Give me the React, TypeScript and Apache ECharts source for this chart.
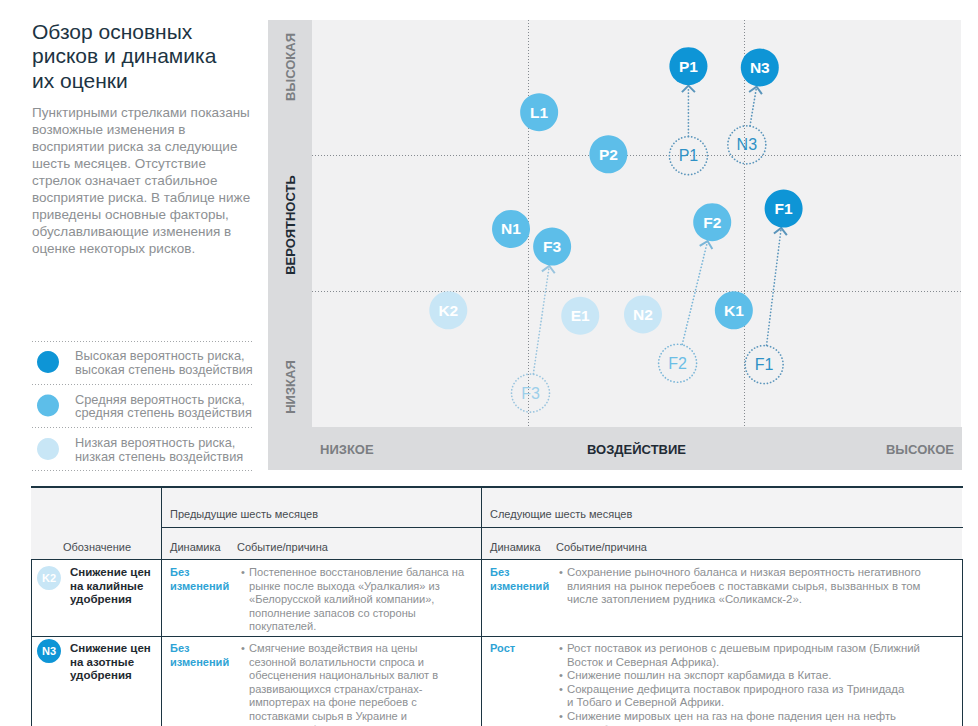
import React, { useEffect, useRef } from 'react';
import * as echarts from 'echarts';

// ---- Risk matrix data (impact: 0..3, probability: 0..3) ----
const riskNames = ['P1', 'N3', 'F1', 'L1', 'P2', 'N1', 'F3', 'F2', 'K1', 'K2', 'E1', 'N2'];
const riskImpact = [1.74, 2.07, 2.18, 1.05, 1.37, 0.92, 1.11, 1.85, 1.95, 0.63, 1.24, 1.53];
const riskProbability = [2.66, 2.65, 1.61, 2.32, 2.01, 1.46, 1.33, 1.51, 0.86, 0.86, 0.82, 0.83];
const riskLevel = ['high', 'high', 'high', 'mid', 'mid', 'mid', 'mid', 'mid', 'mid', 'low', 'low', 'low'];

// dotted "ghost" positions with arrows towards current position
const shiftNames = ['P1', 'N3', 'F1', 'F2', 'F3'];
const shiftImpact = [1.74, 2.01, 2.09, 1.69, 1.01];
const shiftProbability = [2.0, 2.08, 0.46, 0.47, 0.25];
const shiftLevel = ['high', 'high', 'high', 'mid', 'low'];

const probabilityTicks = ['НИЗКАЯ', 'ВЕРОЯТНОСТЬ', 'ВЫСОКАЯ'];
const impactTicks = ['НИЗКОЕ', 'ВОЗДЕЙСТВИЕ', 'ВЫСОКОЕ'];

const titleLines = ['Обзор основных', 'рисков и динамика', 'их оценки'];
const introLines = [
  'Пунктирными стрелками показаны',
  'возможные изменения в',
  'восприятии риска за следующие',
  'шесть месяцев. Отсутствие',
  'стрелок означает стабильное',
  'восприятие риска. В таблице ниже',
  'приведены основные факторы,',
  'обуславливающие изменения в',
  'оценке некоторых рисков.',
];
const legendLevels = ['high', 'mid', 'low'];
const legendLines = [
  ['Высокая вероятность риска,', 'высокая степень воздействия'],
  ['Средняя вероятность риска,', 'средняя степень воздействия'],
  ['Низкая вероятность риска,', 'низкая степень воздействия'],
];

// ---- Table ----
const headPrev = 'Предыдущие шесть месяцев';
const headNext = 'Следующие шесть месяцев';
const headCode = 'Обозначение';
const headDyn = 'Динамика';
const headEvent = 'Событие/причина';
const rowCodes = ['K2', 'N3'];
const rowLevels = ['low', 'high'];
const rowTitles = [
  ['Снижение цен', 'на калийные', 'удобрения'],
  ['Снижение цен', 'на азотные', 'удобрения'],
];
const rowPrevDyn = [['Без', 'изменений'], ['Без', 'изменений']];
const rowNextDyn = [['Без', 'изменений'], ['Рост']];
const rowPrevText = [
  [[
    'Постепенное восстановление баланса на',
    'рынке после выхода «Уралкалия» из',
    '«Белорусской калийной компании»,',
    'пополнение запасов со стороны',
    'покупателей.',
  ]],
  [[
    'Смягчение воздействия на цены',
    'сезонной волатильности спроса и',
    'обесценения национальных валют в',
    'развивающихся странах/странах-',
    'импортерах на фоне перебоев с',
    'поставками сырья в Украине и',
    'Северной Африке.',
  ]],
];
const rowNextText = [
  [[
    'Сохранение рыночного баланса и низкая вероятность негативного',
    'влияния на рынок перебоев с поставками сырья, вызванных в том',
    'числе затоплением рудника «Соликамск-2».',
  ]],
  [
    ['Рост поставок из регионов с дешевым природным газом (Ближний', 'Восток и Северная Африка).'],
    ['Снижение пошлин на экспорт карбамида в Китае.'],
    ['Сокращение дефицита поставок природного газа из Тринидада', 'и Тобаго и Северной Африки.'],
    ['Снижение мировых цен на газ на фоне падения цен на нефть', 'и ослабления национальных валют.'],
  ],
];

const FONT = "'Liberation Sans', Arial, Helvetica, sans-serif";
const fillByLevel: Record<string, string> = { high: '#0e95d6', mid: '#5dbee9', low: '#c8e6f6' };
const ghostTextByLevel: Record<string, string> = { high: '#2f91c6', mid: '#6cbee6', low: '#9ccfea' };
const ghostLineByLevel: Record<string, string> = { high: '#5a95bb', mid: '#7ab6d8', low: '#99c4de' };

function txt(x: number, y: number, text: string, o: any = {}) {
  const align = o.align || 'left';
  return {
    type: 'text',
    x,
    y,
    rotation: o.rotation || 0,
    silent: true,
    z: 10,
    style: {
      text,
      fill: o.fill || '#8b8e91',
      fontSize: o.size || 11,
      fontFamily: FONT,
      fontWeight: o.weight || 'normal',
      align,
      textAlign: align,
      verticalAlign: 'middle',
      textVerticalAlign: 'middle',
    },
  };
}
function hline(x1: number, x2: number, y: number, color: string, w = 1, dash?: number[]) {
  return {
    type: 'line',
    silent: true,
    z: 5,
    shape: { x1, y1: y, x2, y2: y },
    style: { stroke: color, lineWidth: w, lineDash: dash || null },
  };
}
function vline(x: number, y1: number, y2: number, color: string, w = 1) {
  return {
    type: 'line',
    silent: true,
    z: 5,
    shape: { x1: x, y1, x2: x, y2 },
    style: { stroke: color, lineWidth: w },
  };
}

export default function App() {
  const ref = useRef<HTMLDivElement>(null);
  useEffect(() => {
    document.body.style.margin = '0';
    const chart = echarts.init(ref.current!, null, { renderer: 'svg' });

    const els: any[] = [];
    // left column
    titleLines.forEach((t, i) => els.push(txt(32, 31 + i * 24.5, t, { size: 21, fill: '#1d3443' })));
    introLines.forEach((t, i) => els.push(txt(32, 112 + i * 17, t, { size: 13.5, fill: '#8d9093' })));
    [341, 384, 427, 470].forEach((y) => els.push(hline(32, 253, y + 0.5, '#a4a7aa', 1, [1, 2])));
    legendLevels.forEach((lv, i) => {
      const cy = 362 + i * 43.5;
      els.push({ type: 'circle', silent: true, z: 6, shape: { cx: 48, cy, r: 11 }, style: { fill: fillByLevel[lv] } });
      els.push(txt(75, cy - 6.5, legendLines[i][0], { size: 12.8, fill: '#8d9093' }));
      els.push(txt(75, cy + 7, legendLines[i][1], { size: 12.8, fill: '#8d9093' }));
    });

    // chart panel strips
    els.push({ type: 'rect', silent: true, z: 0, shape: { x: 268, y: 20, width: 44, height: 407 }, style: { fill: '#dadbdd' } });
    els.push({ type: 'rect', silent: true, z: 0, shape: { x: 268, y: 427, width: 694, height: 43 }, style: { fill: '#dadbdd' } });
    els.push(txt(290, 67, probabilityTicks[2], { rotation: Math.PI / 2, align: 'center', size: 13, weight: 'bold', fill: '#7b7e82' }));
    els.push(txt(290, 225, probabilityTicks[1], { rotation: Math.PI / 2, align: 'center', size: 13, weight: 'bold', fill: '#1f2b35' }));
    els.push(txt(290, 387, probabilityTicks[0], { rotation: Math.PI / 2, align: 'center', size: 13, weight: 'bold', fill: '#7b7e82' }));
    els.push(txt(320, 449, impactTicks[0], { size: 13, weight: 'bold', fill: '#7b7e82' }));
    els.push(txt(636.5, 449, impactTicks[1], { align: 'center', size: 13, weight: 'bold', fill: '#1f2b35' }));
    els.push(txt(954, 449, impactTicks[2], { align: 'right', size: 13, weight: 'bold', fill: '#7b7e82' }));

    // table
    const dark = '#1c3542';
    els.push({ type: 'rect', silent: true, z: 0, shape: { x: 31, y: 488, width: 931, height: 71 }, style: { fill: '#f3f3f4' } });
    els.push(hline(31, 963, 487, dark, 2));
    els.push(hline(161, 963, 527.5, dark, 1));
    els.push(hline(31, 963, 559.5, dark, 1));
    els.push(hline(31, 963, 636.5, dark, 1));
    els.push(vline(31.5, 559, 726, dark));
    els.push(vline(161.5, 486, 726, dark));
    els.push(vline(481.5, 486, 726, dark));
    els.push(vline(962.5, 559, 726, dark));
    const headFill = '#474c51';
    els.push(txt(170, 514, headPrev, { fill: headFill }));
    els.push(txt(490, 514, headNext, { fill: headFill }));
    els.push(txt(97, 547, headCode, { fill: headFill, align: 'center' }));
    els.push(txt(170, 547, headDyn, { fill: headFill }));
    els.push(txt(237, 547, headEvent, { fill: headFill }));
    els.push(txt(490, 547, headDyn, { fill: headFill }));
    els.push(txt(556, 547, headEvent, { fill: headFill }));

    const rowTop = [572, 648];
    const lh = 13.6;
    const dynColor = '#2ea3d5';
    rowCodes.forEach((code, r) => {
      const y0 = rowTop[r];
      const cy = r === 0 ? 578 : 651;
      els.push({ type: 'circle', silent: true, z: 6, shape: { cx: 49, cy, r: 12 }, style: { fill: fillByLevel[rowLevels[r]] } });
      els.push(txt(49, cy, code, { align: 'center', fill: '#ffffff', weight: 'bold', size: 11 }));
      rowTitles[r].forEach((t, i) => els.push(txt(70, y0 + i * lh, t, { fill: '#1f2a30', weight: 'bold', size: 11.5 })));
      rowPrevDyn[r].forEach((t, i) => els.push(txt(170, y0 + i * lh, t, { fill: dynColor, weight: 'bold' })));
      rowNextDyn[r].forEach((t, i) => els.push(txt(490, y0 + i * lh, t, { fill: dynColor, weight: 'bold' })));
      let k = 0;
      rowPrevText[r].forEach((bullet) => {
        els.push(txt(241, y0 + k * lh, '•', { fill: '#8d9093' }));
        bullet.forEach((t) => { els.push(txt(249, y0 + k * lh, t, { fill: '#8d9093', size: 11.1 })); k++; });
      });
      k = 0;
      rowNextText[r].forEach((bullet) => {
        els.push(txt(559, y0 + k * lh, '•', { fill: '#8d9093' }));
        bullet.forEach((t) => { els.push(txt(567, y0 + k * lh, t, { fill: '#8d9093', size: 11.4 })); k++; });
      });
    });

    const solidData = riskNames.map((n, i) => ({
      name: n,
      value: [riskImpact[i], riskProbability[i]],
      itemStyle: { color: fillByLevel[riskLevel[i]], opacity: 1 },
    }));
    const ghostData = shiftNames.map((n, i) => ({
      name: n,
      value: [shiftImpact[i], shiftProbability[i]],
      itemStyle: { color: 'rgba(0,0,0,0)', opacity: 1, borderColor: ghostLineByLevel[shiftLevel[i]], borderWidth: 1.7, borderType: [0.1, 3.2], borderCap: 'round' },
      label: { color: ghostTextByLevel[shiftLevel[i]] },
    }));
    const arrowData = shiftNames.map((n, i) => {
      const j = riskNames.indexOf(n);
      return [shiftImpact[i], shiftProbability[i], riskImpact[j], riskProbability[j]];
    });

    const option: any = {
      animation: false,
      grid: { left: 312, top: 20, width: 649, height: 407, show: true, backgroundColor: '#f1f1f2', borderWidth: 0 },
      xAxis: {
        type: 'value', min: 0, max: 3, interval: 1,
        axisLine: { show: false }, axisTick: { show: false }, axisLabel: { show: false },
        splitLine: { show: true, lineStyle: { type: [1, 2], width: 1, color: ['rgba(0,0,0,0)', '#858a90', '#858a90', 'rgba(0,0,0,0)'] } },
      },
      yAxis: {
        type: 'value', min: 0, max: 3, interval: 1,
        axisLine: { show: false }, axisTick: { show: false }, axisLabel: { show: false },
        splitLine: { show: true, lineStyle: { type: [1, 2], width: 1, color: ['rgba(0,0,0,0)', '#858a90', '#858a90', 'rgba(0,0,0,0)'] } },
      },
      graphic: { elements: els },
      series: [
        {
          type: 'custom',
          coordinateSystem: 'cartesian2d',
          silent: true,
          z: 3,
          data: arrowData,
          renderItem: (params: any, api: any) => {
            const a = api.coord([api.value(0), api.value(1)]);
            const b = api.coord([api.value(2), api.value(3)]);
            const dx = b[0] - a[0];
            const dy = b[1] - a[1];
            const len = Math.hypot(dx, dy) || 1;
            const ux = dx / len;
            const uy = dy / len;
            const r = 19.5;
            const sx = a[0] + ux * r, sy = a[1] + uy * r;
            const ex = b[0] - ux * r, ey = b[1] - uy * r;
            const ah = 6.5, aw = 6.5;
            const lx = ex - ux * ah - uy * aw, ly = ey - uy * ah + ux * aw;
            const rx = ex - ux * ah + uy * aw, ry = ey - uy * ah - ux * aw;
            const color = ghostLineByLevel[shiftLevel[params.dataIndex]];
            return {
              type: 'group',
              children: [
                { type: 'line', shape: { x1: sx, y1: sy, x2: ex - ux * 2, y2: ey - uy * 2 }, style: { stroke: color, lineWidth: 1.7, lineDash: [0.1, 3.2], lineCap: 'round' } },
                { type: 'polyline', shape: { points: [[lx, ly], [ex, ey], [rx, ry]] }, style: { stroke: color, lineWidth: 2, fill: null } },
              ],
            };
          },
        },
        {
          type: 'scatter',
          z: 4,
          symbolSize: 38,
          data: ghostData,
          label: { show: true, position: 'inside', formatter: '{b}', fontSize: 16, fontFamily: FONT },
        },
        {
          type: 'scatter',
          z: 5,
          symbolSize: 38,
          data: solidData,
          label: { show: true, position: 'inside', formatter: '{b}', fontSize: 15.5, fontWeight: 'bold', color: '#ffffff', fontFamily: FONT },
        },
      ],
    };
    chart.setOption(option);
    return () => chart.dispose();
  }, []);
  return <div ref={ref} style={{ width: 978, height: 726, background: '#ffffff' }} />;
}
